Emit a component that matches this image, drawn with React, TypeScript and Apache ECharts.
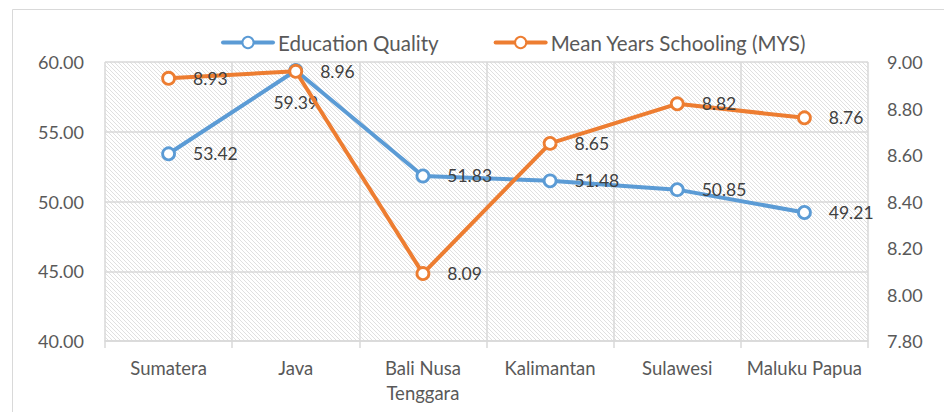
import React, { useEffect, useRef } from "react";
import * as echarts from "echarts";

const categories = ["Sumatera", "Java", "Bali Nusa\nTenggara", "Kalimantan", "Sulawesi", "Maluku Papua"];
const educationQuality = [53.42, 59.39, 51.83, 51.48, 50.85, 49.21];
const meanYearsSchooling = [8.93, 8.96, 8.09, 8.65, 8.82, 8.76];
const seriesNames = ["Education Quality", "Mean Years Schooling (MYS)"];

const FONT = "Lato, 'Noto Sans', sans-serif";

function makeHatch(): HTMLCanvasElement {
  const n = 4;
  const c = document.createElement("canvas");
  c.width = n;
  c.height = n;
  const ctx = c.getContext("2d")!;
  ctx.fillStyle = "#ffffff";
  ctx.fillRect(0, 0, n, n);
  ctx.fillStyle = "#e0e0e0";
  for (let i = 0; i < n; i++) ctx.fillRect(i, i, 1, 1);
  return c;
}

export default function App() {
  const ref = useRef<HTMLDivElement>(null);
  useEffect(() => {
    if (!ref.current) return;
    const chart = echarts.init(ref.current, null, { renderer: "svg" });
    const hatch = makeHatch();
    const labelStyle = {
      show: true,
      position: "right" as const,
      distance: 17,
      color: "#404040",
      fontSize: 17.5,
      fontFamily: FONT,
      formatter: (p: any) => Number(p.value).toFixed(2),
    };
    chart.setOption({
      animation: false,
      backgroundColor: "#ffffff",
      graphic: [
        {
          type: "rect",
          z: -10,
          shape: { x: 12.5, y: 9.5, width: 980, height: 430 },
          style: { fill: "none", stroke: "#d9d9d9", lineWidth: 1 },
        },
      ],
      legend: {
        left: 216,
        top: 27,
        itemWidth: 50,
        itemHeight: 14,
        itemGap: 55,
        lineStyle: { width: 4 },
        textStyle: { color: "#595959", fontSize: 20.5, fontFamily: FONT },
        data: seriesNames,
      },
      grid: {
        left: 105,
        right: 76,
        top: 62,
        bottom: 71,
        show: true,
        borderWidth: 0,
        backgroundColor: { image: hatch, repeat: "repeat", imageWidth: 4, imageHeight: 4 } as any,
      },
      xAxis: {
        type: "category",
        data: categories,
        boundaryGap: true,
        axisLine: { lineStyle: { color: "#d9d9d9", width: 1.5 } },
        axisTick: { show: true, length: 7, lineStyle: { color: "#d9d9d9", width: 1.5 } },
        splitLine: { show: true, interval: 0, lineStyle: { color: "#d9d9d9", width: 1.5 } },
        axisLabel: {
          interval: 0,
          color: "#595959",
          fontSize: 18.5,
          fontFamily: FONT,
          margin: 14,
          lineHeight: 25,
        },
      },
      yAxis: [
        {
          type: "value",
          min: 40,
          max: 60,
          interval: 5,
          axisLine: { show: false },
          axisTick: { show: false },
          splitLine: { lineStyle: { color: "#d9d9d9", width: 1.5 } },
          axisLabel: {
            color: "#595959",
            fontSize: 18,
            fontFamily: FONT,
            margin: 21,
            formatter: (v: number) => v.toFixed(2),
          },
        },
        {
          type: "value",
          min: 7.8,
          max: 9.0,
          interval: 0.2,
          axisLine: { show: false },
          axisTick: { show: false },
          splitLine: { show: false },
          axisLabel: {
            color: "#595959",
            fontSize: 18,
            fontFamily: FONT,
            margin: 19,
            formatter: (v: number) => v.toFixed(2),
          },
        },
      ],
      series: [
        {
          name: seriesNames[0],
          type: "line",
          yAxisIndex: 0,
          data: educationQuality.map((v, i) =>
            i === 1 ? { value: v, label: { position: "bottom", distance: 16 } } : v
          ),
          symbol: "circle",
          symbolSize: 12,
          showAllSymbol: true,
          itemStyle: { color: "#ffffff", borderColor: "#5B9BD5", borderWidth: 2.8 },
          lineStyle: { color: "#5B9BD5", width: 4, cap: "round" },
          label: labelStyle,
          z: 2,
        },
        {
          name: seriesNames[1],
          type: "line",
          yAxisIndex: 1,
          data: meanYearsSchooling,
          symbol: "circle",
          symbolSize: 12,
          showAllSymbol: true,
          itemStyle: { color: "#ffffff", borderColor: "#ED7D31", borderWidth: 2.8 },
          lineStyle: { color: "#ED7D31", width: 4, cap: "round" },
          label: labelStyle,
          z: 3,
        },
      ],
    });
    return () => chart.dispose();
  }, []);
  return <div ref={ref} style={{ width: 944, height: 412, position: "absolute", left: 0, top: 0 }} />;
}
